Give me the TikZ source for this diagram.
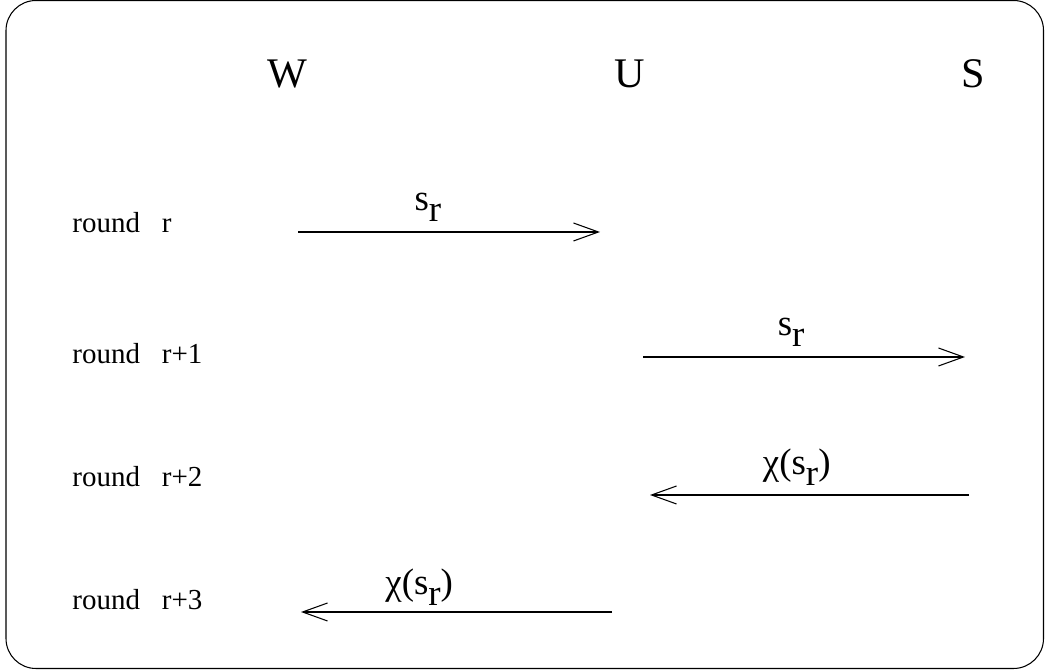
\documentclass[tikz,border=0pt]{standalone}
\usepackage{fontspec}
\setmainfont{Liberation Serif}
\usetikzlibrary{positioning, arrows.meta}

\newcommand{\sub}[1]{\raisebox{-0.65ex}{#1}}
\newcommand{\rndgap}{\hspace{0.44cm}}

\begin{document}
\begin{tikzpicture}[
    party/.style={
        anchor=base,
        inner sep=0pt,
        font=\rmfamily\fontsize{24}{28}\selectfont
    },
    rnd/.style={
        anchor=base west,
        inner sep=0pt,
        font=\rmfamily\fontsize{16.5}{19}\selectfont
    },
    lbl/.style={
        inner sep=0pt,
        font=\rmfamily\fontsize{21}{25}\selectfont
    },
    msg/.style={
        line width=0.6pt,
        -{Straight Barb[length=0.5cm, width=0.36cm, line width=0.6pt]}
    }
]

\useasboundingbox (0,0) rectangle (20.9,13.4);
\draw[line width=0.6pt, rounded corners=0.6cm] (0.12,0.03) rectangle (20.87,13.39);

\node[party] (w) at (5.74,11.64) {W};
\node[party] (u) at (12.6,11.64) {U};
\node[party] (s) at (19.46,11.64) {S};

\node[rnd] (r0) at (1.44,8.74) {round\rndgap r};
\node[rnd] (r1) at (1.44,6.12) {round\rndgap r+1};
\node[rnd] (r2) at (1.44,3.66) {round\rndgap r+2};
\node[rnd] (r3) at (1.44,1.20) {round\rndgap r+3};

\coordinate (m0s) at (5.96,8.76);
\coordinate (m0e) at (12.0,8.76);
\coordinate (m1s) at (12.86,6.26);
\coordinate (m1e) at (19.3,6.26);
\coordinate (m2s) at (19.38,3.5);
\coordinate (m2e) at (13.0,3.5);
\coordinate (m3s) at (12.24,1.16);
\coordinate (m3e) at (6.02,1.16);

\draw[msg] (m0s) -- node[lbl, above=0.2cm, pos=0.43] (l0) {s\sub{r}} (m0e);
\draw[msg] (m1s) -- node[lbl, above=0.2cm, pos=0.46] (l1) {s\sub{r}} (m1e);
\draw[msg] (m2s) -- node[lbl, above=0.18cm, pos=0.54] (l2) {χ(s\sub{r})} (m2e);
\draw[msg] (m3s) -- node[lbl, above=0.12cm, pos=0.62] (l3) {χ(s\sub{r})} (m3e);

\end{tikzpicture}
\end{document}
